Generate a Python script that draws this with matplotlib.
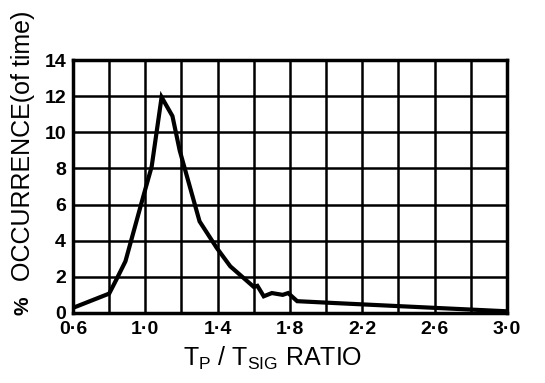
import numpy as np
import matplotlib.pyplot as plt

# ratio Tp/Tsig vs % occurrence
ratio = [0.60, 0.80, 0.84, 0.89, 0.99, 1.035, 1.09, 1.15, 1.19, 1.30, 1.395,
         1.47, 1.60, 1.62, 1.655, 1.70, 1.76, 1.79, 1.84, 2.04, 2.60, 3.00]
occurrence = [0.28, 1.07, 1.85, 2.86, 6.5, 8.1, 11.95, 10.9, 9.0, 5.07, 3.6,
              2.58, 1.44, 1.5, 0.92, 1.1, 1.0, 1.1, 0.65, 0.55, 0.28, 0.09]

xticks = [0.6, 1.0, 1.4, 1.8, 2.2, 2.6, 3.0]
xtick_labels = ["0\u00b76", "1\u00b70", "1\u00b74", "1\u00b78", "2\u00b72", "2\u00b76", "3\u00b70"]
yticks = [0, 2, 4, 6, 8, 10, 12, 14]

plt.rcParams['font.family'] = ['Liberation Sans', 'DejaVu Sans']
tickfont = ['Liberation Sans Narrow', 'Liberation Sans', 'DejaVu Sans']

fig = plt.figure(figsize=(5.45, 3.83), dpi=100)
ax = fig.add_axes([0.134, 0.183, 0.796, 0.660])

ax.plot(ratio, occurrence, color='black', lw=3, solid_joinstyle='miter')

ax.set_xlim(0.6, 3.0)
ax.set_ylim(0, 14)
ax.set_xticks(np.arange(0.6, 3.01, 0.2), minor=True)
ax.set_xticks(xticks)
ax.set_xticklabels(xtick_labels, fontsize=14, fontweight='bold', family=tickfont)
ax.set_yticks(yticks)
ax.set_yticklabels([str(v) for v in yticks], fontsize=14, fontweight='bold', family=tickfont)
ax.tick_params(which='both', length=0)
ax.tick_params(axis='x', pad=6)
ax.tick_params(axis='y', pad=5)
ax.grid(True, which='both', color='black', lw=1.8)
for s in ax.spines.values():
    s.set_linewidth(2.5)

fig.text(0.042, 1 - 146 / 383, "OCCURRENCE(of time)", rotation=90, fontsize=18,
         ha='center', va='center')
fig.text(0.042, 1 - 306 / 383, "%", rotation=90, fontsize=15,
         ha='center', va='center', fontweight='bold')
fig.text(0.50, 1 - 358 / 383, r"T$_\mathregular{P}$ / T$_\mathregular{SIG}$ RATIO",
         fontsize=18, ha='center', va='center')

fig.savefig("out.png", dpi=100)
